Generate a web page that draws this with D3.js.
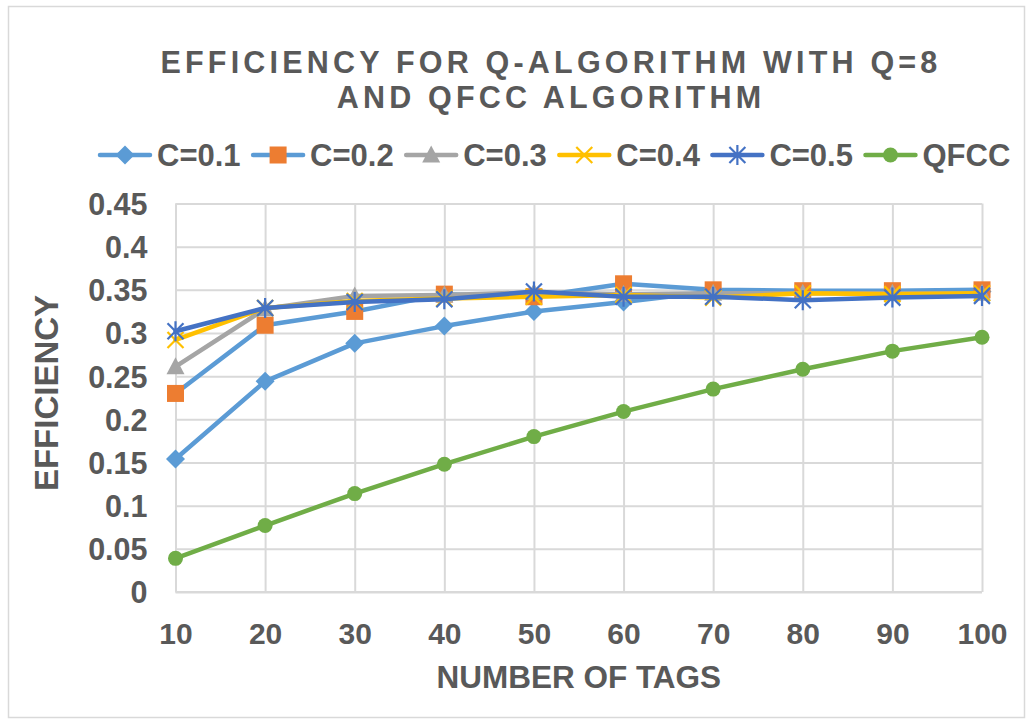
<!DOCTYPE html>
<html><head><meta charset="utf-8">
<script src="https://cdn.jsdelivr.net/npm/d3@7"></script>
<style>
body{margin:0;background:#fff}
svg{display:block}
text{font-family:"Liberation Sans",Arial,Helvetica,sans-serif;font-weight:bold;fill:#595959}
</style>
</head><body>
<svg id="c" width="1032" height="724"></svg>
<script>
// ---- data ----
const categories = [10, 20, 30, 40, 50, 60, 70, 80, 90, 100];
const seriesNames = ["C=0.1", "C=0.2", "C=0.3", "C=0.4", "C=0.5", "QFCC"];
const c01  = [0.154, 0.244, 0.288, 0.308, 0.325, 0.336, 0.348, 0.347, 0.347, 0.348];
const c02  = [0.230, 0.309, 0.325, 0.345, 0.342, 0.357, 0.350, 0.349, 0.349, 0.350];
const c03  = [0.261, 0.328, 0.343, 0.344, 0.347, 0.345, 0.346, 0.346, 0.346, 0.346];
const c04  = [0.292, 0.329, 0.337, 0.340, 0.342, 0.344, 0.341, 0.346, 0.345, 0.346];
const c05  = [0.302, 0.329, 0.336, 0.339, 0.348, 0.342, 0.342, 0.338, 0.341, 0.343];
const qfcc = [0.039, 0.077, 0.114, 0.148, 0.180, 0.209, 0.235, 0.258, 0.279, 0.295];
const yTicks = [0, 0.05, 0.1, 0.15, 0.2, 0.25, 0.3, 0.35, 0.4, 0.45];
const yTickLabels = ["0", "0.05", "0.1", "0.15", "0.2", "0.25", "0.3", "0.35", "0.4", "0.45"];
const titleLines = ["EFFICIENCY FOR Q-ALGORITHM WITH Q=8", "AND QFCC ALGORITHM"];
const xTitle = "NUMBER OF TAGS";
const yTitle = "EFFICIENCY";

// ---- styles ----
const lineColors   = ["#5B9BD5", "#5B9BD5", "#A5A5A5", "#FFC000", "#4472C4", "#70AD47"];
const markerColors = ["#5B9BD5", "#ED7D31", "#A5A5A5", "#FFC000", "#4472C4", "#70AD47"];
const markerTypes  = ["diamond", "square", "triangle", "x", "star", "circle"];
const seriesValues = [c01, c02, c03, c04, c05, qfcc];

const svg = d3.select("#c");
const pL = 175.5, pR = 982, pT = 203.5, pB = 592;

// chart border
svg.append("rect").attr("x", 8.5).attr("y", 6.5).attr("width", 1016).attr("height", 711)
  .attr("fill", "#fff").attr("stroke", "#d9d9d9").attr("stroke-width", 1.5);

const x = d3.scalePoint().domain(categories).range([pL, pR]);
const y = d3.scaleLinear().domain([0, 0.45]).range([pB, pT]);

// y axis with gridlines
const ya = svg.append("g").attr("transform", `translate(${pL},0)`)
  .call(d3.axisLeft(y).tickValues(yTicks).tickSize(-(pR - pL)).tickPadding(28)
    .tickFormat((d, i) => yTickLabels[i]));
ya.select(".domain").remove();
ya.selectAll(".tick line").attr("stroke", "#d9d9d9").attr("stroke-width", 2);
ya.selectAll(".tick text").attr("font-size", 30.5).attr("dy", "0.36em").attr("fill", "#595959");

// x axis with gridlines
const xa = svg.append("g").attr("transform", `translate(0,${pB})`)
  .call(d3.axisBottom(x).tickSize(-(pB - pT)).tickPadding(0));
xa.select(".domain").remove();
xa.selectAll(".tick line").attr("stroke", "#d9d9d9").attr("stroke-width", 2);
xa.selectAll(".tick text").attr("font-size", 30).attr("y", 52).attr("dy", 0).attr("fill", "#595959");

// bottom axis line
svg.append("line").attr("x1", pL).attr("x2", pR).attr("y1", pB).attr("y2", pB)
  .attr("stroke", "#d9d9d9").attr("stroke-width", 2);

// marker drawing
function drawMarker(g, type, color) {
  if (type === "diamond") {
    g.append("path").attr("d", "M0,-9.5L9.5,0L0,9.5L-9.5,0Z").attr("fill", color);
  } else if (type === "square") {
    g.append("rect").attr("x", -8.5).attr("y", -8.5).attr("width", 17).attr("height", 17).attr("fill", color);
  } else if (type === "triangle") {
    g.append("path").attr("d", "M0,-9.5L9,7.5L-9,7.5Z").attr("fill", color);
  } else if (type === "x") {
    g.append("path").attr("d", "M-8,-8L8,8M8,-8L-8,8").attr("stroke", color).attr("stroke-width", 2.2).attr("fill", "none");
  } else if (type === "star") {
    g.append("path").attr("d", "M-8,-8L8,8M8,-8L-8,8M0,-10L0,10").attr("stroke", color).attr("stroke-width", 2.2).attr("fill", "none");
  } else if (type === "circle") {
    g.append("circle").attr("r", 7.5).attr("fill", color);
  }
}

const line = d3.line().x((d, i) => x(categories[i])).y(d => y(d));

seriesValues.forEach((vals, s) => {
  const g = svg.append("g");
  g.append("path").attr("d", line(vals)).attr("fill", "none")
    .attr("stroke", lineColors[s]).attr("stroke-width", 4.5)
    .attr("stroke-linejoin", "round").attr("stroke-linecap", "round");
  vals.forEach((v, i) => {
    const mg = g.append("g").attr("transform", `translate(${x(categories[i])},${y(v)})`);
    drawMarker(mg, markerTypes[s], markerColors[s]);
  });
});

// title
const title = svg.append("g");
titleLines.forEach((t, i) => {
  title.append("text").attr("x", 551).attr("y", 73 + i * 35).attr("text-anchor", "middle")
    .attr("font-size", 30.5).attr("letter-spacing", 4.2).text(t);
});

// legend
const leg = svg.append("g");
let lx = 100;
const ly = 155;
seriesNames.forEach((name, s) => {
  const g = leg.append("g");
  g.append("line").attr("x1", lx).attr("x2", lx + 50).attr("y1", ly).attr("y2", ly)
    .attr("stroke", lineColors[s]).attr("stroke-width", 4.5).attr("stroke-linecap", "round");
  const mg = g.append("g").attr("transform", `translate(${lx + 25},${ly})`);
  drawMarker(mg, markerTypes[s], markerColors[s]);
  const t = g.append("text").attr("x", lx + 57).attr("y", ly + 11).attr("font-size", 31).text(name);
  lx += 57 + t.node().getComputedTextLength() + 12.5;
});

// axis titles
svg.append("text").attr("x", (pL + pR) / 2).attr("y", 688).attr("text-anchor", "middle")
  .attr("font-size", 31.5).text(xTitle);
svg.append("text").attr("transform", `translate(46,393) rotate(-90)`).attr("text-anchor", "middle")
  .attr("font-size", 33).attr("dy", "0.36em").text(yTitle);
</script>
</body></html>
